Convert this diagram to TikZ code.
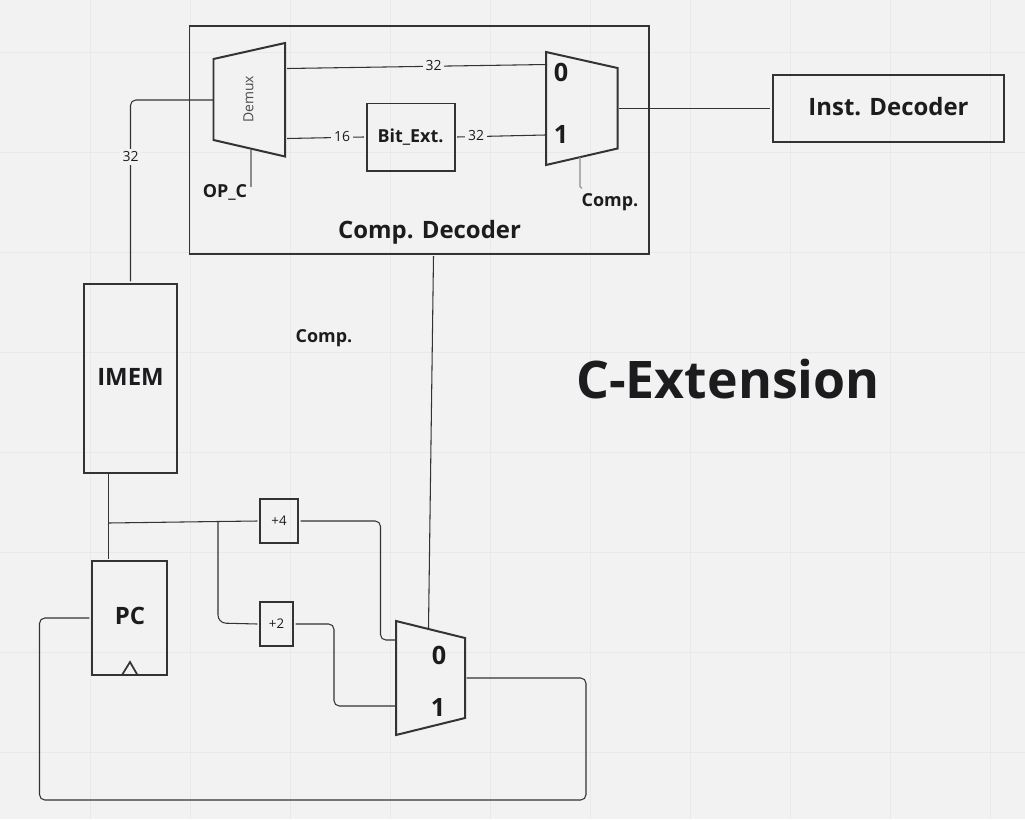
\documentclass[tikz,border=0pt]{standalone}
\usepackage{fontspec}
\setmainfont{Open Sans}
\usepackage{xcolor}
\usetikzlibrary{math}

\definecolor{boardbg}{HTML}{F2F2F2}
\definecolor{boardgrid}{HTML}{E9E9E9}
\definecolor{inkdark}{HTML}{333333}
\definecolor{inktext}{HTML}{1C1C1E}

\tikzset{
gridline/.style={line width=0.75pt,boardgrid},
wire/.style={line width=0.8pt,inkdark},
softwire/.style={line width=0.8pt,black!45},
blockbox/.style={draw=inkdark,line width=1.5pt,outer sep=2pt,inner sep=0pt,text=inktext},
muxedge/.style={draw=inkdark,line width=1.5pt,line join=miter},
boldlabel/.style={text=inktext,inner sep=0pt,font=\bfseries\fontsize{13.5}{16}\selectfont},
biglabel/.style={text=inktext,inner sep=0pt,font=\bfseries\fontsize{18}{21}\selectfont},
muxdigit/.style={text=inktext,inner sep=0pt,font=\bfseries\fontsize{19}{22}\selectfont},
buswidth/.style={fill=boardbg,text=inktext,inner sep=2pt,font=\fontsize{10.5}{12}\selectfont},
}

\begin{document}
\begin{tikzpicture}[y=-1cm]

\tikzmath{
\scale = 0.02646;
}

\useasboundingbox[fill=boardbg] (0*\scale,0*\scale) rectangle (1025*\scale,819*\scale);

% board grid
\draw[gridline] (90.5*\scale,0*\scale) -- (90.5*\scale,819*\scale);
\draw[gridline] (190.5*\scale,0*\scale) -- (190.5*\scale,819*\scale);
\draw[gridline] (290.5*\scale,0*\scale) -- (290.5*\scale,819*\scale);
\draw[gridline] (390.5*\scale,0*\scale) -- (390.5*\scale,819*\scale);
\draw[gridline] (490.5*\scale,0*\scale) -- (490.5*\scale,819*\scale);
\draw[gridline] (590.5*\scale,0*\scale) -- (590.5*\scale,819*\scale);
\draw[gridline] (690.5*\scale,0*\scale) -- (690.5*\scale,819*\scale);
\draw[gridline] (790.5*\scale,0*\scale) -- (790.5*\scale,819*\scale);
\draw[gridline] (890.5*\scale,0*\scale) -- (890.5*\scale,819*\scale);
\draw[gridline] (990.5*\scale,0*\scale) -- (990.5*\scale,819*\scale);
\draw[gridline] (0*\scale,52.5*\scale) -- (1025*\scale,52.5*\scale);
\draw[gridline] (0*\scale,152.5*\scale) -- (1025*\scale,152.5*\scale);
\draw[gridline] (0*\scale,252.5*\scale) -- (1025*\scale,252.5*\scale);
\draw[gridline] (0*\scale,352.5*\scale) -- (1025*\scale,352.5*\scale);
\draw[gridline] (0*\scale,452.5*\scale) -- (1025*\scale,452.5*\scale);
\draw[gridline] (0*\scale,552.5*\scale) -- (1025*\scale,552.5*\scale);
\draw[gridline] (0*\scale,652.5*\scale) -- (1025*\scale,652.5*\scale);
\draw[gridline] (0*\scale,752.5*\scale) -- (1025*\scale,752.5*\scale);

% blocks
\node[blockbox,minimum width=459*\scale cm,minimum height=228*\scale cm] (compdec) at (419*\scale,140*\scale) {};
\node[blockbox,minimum width=231*\scale cm,minimum height=67*\scale cm] (instdec) at (888.5*\scale,108.5*\scale) {};
\node[blockbox,minimum width=88*\scale cm,minimum height=67*\scale cm] (bitext) at (410.5*\scale,137*\scale) {};
\node[blockbox,minimum width=93*\scale cm,minimum height=189*\scale cm] (imem) at (130.5*\scale,378.5*\scale) {};
\node[blockbox,minimum width=75*\scale cm,minimum height=114*\scale cm] (pc) at (129.5*\scale,618*\scale) {};
\node[blockbox,minimum width=38*\scale cm,minimum height=44*\scale cm] (plusfour) at (279*\scale,521*\scale) {};
\node[blockbox,minimum width=33*\scale cm,minimum height=44*\scale cm] (plustwo) at (276.5*\scale,624*\scale) {};

% block texts
\node[biglabel] (compdectxt) at (429.5*\scale,232.5*\scale) {Comp. Decoder};
\node[biglabel] (instdectxt) at (888.5*\scale,107*\scale) {Inst. Decoder};
\node[boldlabel] (bitexttxt) at (410.5*\scale,137.5*\scale) {Bit\_Ext.};
\node[biglabel] (imemtxt) at (130.5*\scale,377*\scale) {IMEM};
\node[biglabel] (pctxt) at (130*\scale,616*\scale) {PC};
\node[inner sep=0pt,text=inktext,font=\fontsize{10}{12}\selectfont] (plusfourtxt) at (279*\scale,521*\scale) {+4};
\node[inner sep=0pt,text=inktext,font=\fontsize{10}{12}\selectfont] (plustwotxt) at (276.5*\scale,624*\scale) {+2};

% muxes
\draw[muxedge] (213.5*\scale,59*\scale) -- (285*\scale,43*\scale) -- (285*\scale,156.5*\scale) -- (213.5*\scale,140*\scale) -- cycle;
\draw[muxedge] (546*\scale,52*\scale) -- (617.5*\scale,68*\scale) -- (617.5*\scale,148.5*\scale) -- (546*\scale,165*\scale) -- cycle;
\draw[muxedge] (396*\scale,621*\scale) -- (465*\scale,638*\scale) -- (465*\scale,718*\scale) -- (396*\scale,735*\scale) -- cycle;
\draw[muxedge,line width=1.3pt] (122*\scale,675*\scale) -- (130*\scale,662*\scale) -- (137.5*\scale,675*\scale);

\node[inner sep=0pt,text=black!70,rotate=90,font=\fontsize{10.5}{12}\selectfont] (demuxtxt) at (248.5*\scale,99.5*\scale) {Demux};
\node[muxdigit] (topzero) at (561*\scale,72*\scale) {0};
\node[muxdigit] (topone) at (561*\scale,134*\scale) {1};
\node[muxdigit] (botzero) at (439*\scale,655*\scale) {0};
\node[muxdigit] (botone) at (438*\scale,707*\scale) {1};

% mux pins
\coordinate (demuxin) at (213*\scale,100*\scale);
\coordinate (demuxhigh) at (287*\scale,68.5*\scale);
\coordinate (demuxlow) at (287*\scale,138.5*\scale);
\coordinate (demuxsel) at (251*\scale,150*\scale);
\coordinate (opcend) at (251*\scale,187*\scale);
\coordinate (topmuxzero) at (547*\scale,64.5*\scale);
\coordinate (topmuxone) at (545*\scale,135*\scale);
\coordinate (topmuxout) at (619*\scale,108.5*\scale);
\coordinate (topmuxsel) at (580*\scale,157*\scale);
\coordinate (compend) at (582*\scale,188*\scale);
\coordinate (botmuxzero) at (395*\scale,640*\scale);
\coordinate (botmuxone) at (395*\scale,706*\scale);
\coordinate (botmuxout) at (466.5*\scale,678*\scale);
\coordinate (botmuxsel) at (428.5*\scale,628*\scale);
\coordinate (decodersel) at (433.5*\scale,256*\scale);
\coordinate (imemout) at (108.5*\scale,474*\scale);
\coordinate (pcin) at (108.5*\scale,559*\scale);
\coordinate (pcbranch) at (108.5*\scale,523*\scale);
\coordinate (plusbranch) at (218*\scale,521.5*\scale);

% wires
\draw[wire,rounded corners=4pt] (imem.north) -- (130.5*\scale,100*\scale) -- (demuxin);
\node[buswidth] (imembus) at (130.5*\scale,157*\scale) {32};
\draw[wire] (demuxhigh) -- (topmuxzero);
\node[buswidth] (highbus) at (433.5*\scale,66*\scale) {32};
\draw[wire] (demuxlow) -- (bitext.west);
\node[buswidth] (lowbus) at (342*\scale,137*\scale) {16};
\draw[wire] (bitext.east) -- (topmuxone);
\node[buswidth] (extbus) at (476*\scale,136*\scale) {32};
\draw[softwire] (demuxsel) -- (opcend);
\draw[softwire,rounded corners=1pt] (topmuxsel) -- (580*\scale,188*\scale) -- (compend);
\draw[wire] (topmuxout) -- (instdec.west);
\draw[wire] (decodersel) -- (botmuxsel);
\draw[wire] (imemout) -- (pcin);
\draw[wire] (pcbranch) -- (plusbranch) -- (plusfour.west);
\draw[wire,rounded corners=6pt] (plusbranch) -- (218*\scale,623*\scale) -- (plustwo.west);
\draw[wire,rounded corners=4pt] (plusfour.east) -- (380.5*\scale,521*\scale) -- (380.5*\scale,640*\scale) -- (botmuxzero);
\draw[wire,rounded corners=4pt] (plustwo.east) -- (334*\scale,624*\scale) -- (334*\scale,706*\scale) -- (botmuxone);
\draw[wire,rounded corners=4pt] (botmuxout) -- (586*\scale,678*\scale) -- (586*\scale,800*\scale) -- (39.5*\scale,800*\scale) -- (39.5*\scale,618*\scale) -- (pc.west);

% free labels
\node[boldlabel] (opclabel) at (225*\scale,192.5*\scale) {OP\_C};
\node[boldlabel] (complabel) at (610*\scale,202.5*\scale) {Comp.};
\node[boldlabel] (compfree) at (324*\scale,338.5*\scale) {Comp.};
\node[text=inktext,inner sep=0pt,font=\bfseries\fontsize{39}{46}\selectfont] (title) at (728*\scale,379*\scale) {C-Extension};

\end{tikzpicture}
\end{document}
